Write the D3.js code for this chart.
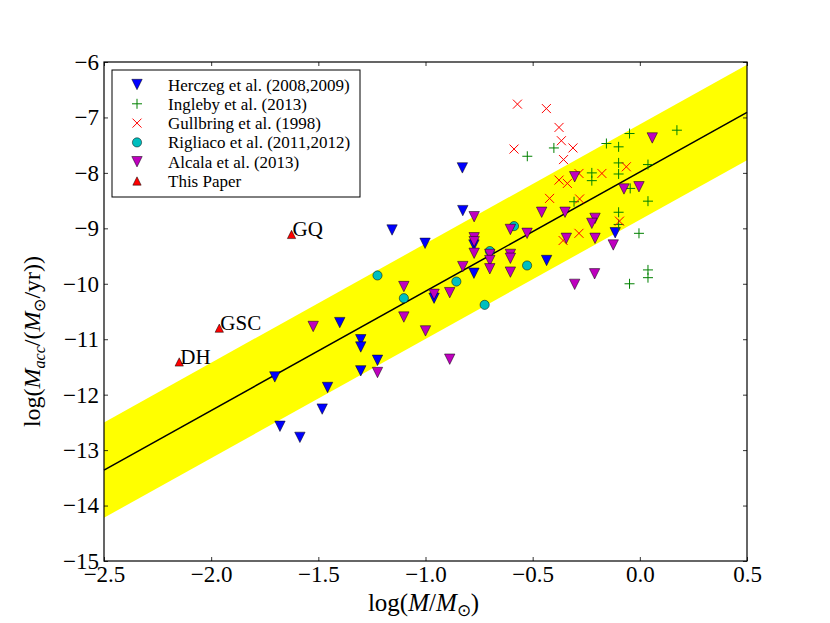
<!DOCTYPE html>
<html lang="en">
<head>
<meta charset="utf-8">
<title>Accretion rate vs mass</title>
<script src="https://d3js.org/d3.v7.min.js"></script>
<style>
  body { margin: 0; background: #fff; }
  text { font-family: "Liberation Serif", "Times New Roman", serif; }
</style>
</head>
<body>
<div id="my_dataviz"></div>
<script>

// ---------------------------//
//       DATA                 //
// ---------------------------//

// [log M, log Macc]
const herczeg = [
  [-1.156, -9.03], [-1.302, -11.01], [-1.302, -11.14], [-1.400, -10.70],
  [-1.224, -11.38], [-1.302, -11.57], [-1.703, -11.68], [-1.457, -11.87],
  [-1.482, -12.26], [-1.679, -12.57], [-1.586, -12.77], [-0.828, -7.91],
  [-0.826, -8.68], [-1.002, -9.27], [-0.774, -9.30], [-0.774, -9.81],
  [-0.960, -10.26], [-0.435, -9.58], [-0.115, -9.08]
];

const ingleby = [
  [-0.525, -7.70], [-0.401, -7.55], [-0.156, -7.47], [-0.099, -7.53],
  [-0.048, -7.29], [0.173, -7.23], [-0.099, -7.82], [0.038, -7.85],
  [-0.099, -8.02], [-0.224, -8.00], [-0.224, -8.14], [-0.045, -8.28],
  [0.038, -8.51], [-0.307, -8.52], [-0.099, -8.71], [-0.099, -8.93],
  [-0.004, -9.09], [0.038, -9.75], [0.038, -9.89], [-0.048, -10.00]
];

const gullbring = [
  [-0.571, -6.76], [-0.436, -6.84], [-0.377, -7.18], [-0.366, -7.42],
  [-0.312, -7.55], [-0.587, -7.57], [-0.356, -7.76], [-0.063, -7.89],
  [-0.377, -8.13], [-0.338, -8.19], [-0.284, -8.01], [-0.177, -8.01],
  [-0.421, -8.46], [-0.281, -8.47], [-0.095, -8.87], [-0.284, -9.09],
  [-0.358, -9.22]
];

const rigliaco = [
  [-1.224, -9.85], [-1.101, -10.26], [-0.587, -8.96], [-0.700, -9.41],
  [-0.526, -9.67], [-0.856, -9.96], [-0.724, -10.38]
];

const alcala = [
  [-1.101, -10.05], [-1.524, -10.77], [-1.101, -10.60], [-1.224, -11.60],
  [-0.773, -8.79], [-0.458, -8.71], [-0.349, -8.71], [-0.209, -8.82],
  [-0.224, -8.91], [-0.604, -9.02], [-0.526, -9.09], [-0.773, -9.17],
  [-0.773, -9.24], [-0.773, -9.45], [-0.343, -9.18], [-0.209, -9.18],
  [-0.124, -9.30], [-0.700, -9.47], [-0.700, -9.58], [-0.700, -9.73],
  [-0.604, -9.47], [-0.604, -9.54], [-0.604, -9.79], [-0.826, -9.69],
  [-0.960, -10.19], [-0.887, -10.16], [-1.000, -10.85], [-0.887, -11.36],
  [-0.304, -10.01], [-0.211, -9.82], [0.058, -7.37], [-0.304, -8.07],
  [-0.074, -8.29], [-0.004, -8.25]
];

const thisPaper = [[-1.625, -9.11], [-1.962, -10.80], [-2.149, -11.41]];
const thisPaperNames = ["GQ", "GSC", "DH"];

// fitted relation and its scatter band
const fitX = [-2.5, 0.5];
const fitY = [-13.36, -6.91];
const bandHalf = 0.86;

const xTicks = [-2.5, -2.0, -1.5, -1.0, -0.5, 0.0, 0.5];
const yTicks = [-6, -7, -8, -9, -10, -11, -12, -13, -14, -15];

const legendNames = ["Herczeg et al. (2008,2009)", "Ingleby et al. (2013)",
  "Gullbring et al. (1998)", "Rigliaco et al. (2011,2012)",
  "Alcala et al. (2013)", "This Paper"];

// ---------------------------//
//       AXIS  AND SCALE      //
// ---------------------------//

const W = 830, H = 623;
const serif = "'Liberation Serif', 'Times New Roman', serif";
const margin = {top: 62, right: 83, bottom: 62, left: 104},
    width = W - margin.left - margin.right,
    height = H - margin.top - margin.bottom;

const svg = d3.select("#my_dataviz")
  .append("svg")
    .attr("width", W)
    .attr("height", H)
  .append("g")
    .attr("transform", `translate(${margin.left},${margin.top})`);

const x = d3.scaleLinear().domain([-2.5, 0.5]).range([0, width]);
const y = d3.scaleLinear().domain([-15, -6]).range([height, 0]);

svg.append("defs").append("clipPath").attr("id", "clip")
  .append("rect").attr("width", width).attr("height", height);

// yellow band
const bandArea = d3.area()
  .x(d => x(d[0]))
  .y0(d => y(d[1] - bandHalf))
  .y1(d => y(d[1] + bandHalf));
svg.append("path")
  .datum(fitX.map((v, i) => [v, fitY[i]]))
  .attr("clip-path", "url(#clip)")
  .attr("d", bandArea)
  .attr("fill", "#ffff00");

svg.append("path")
  .datum(fitX.map((v, i) => [v, fitY[i]]))
  .attr("d", d3.line().x(d => x(d[0])).y(d => y(d[1])))
  .attr("fill", "none")
  .attr("stroke", "black")
  .attr("stroke-width", 1.5);

// ---------------------------//
//       MARKERS              //
// ---------------------------//

const s = 5.2;
const triDown = `M${-s},${-s}L${s},${-s}L0,${s}Z`;
const triUp = `M${-s*0.8},${s*0.8}L${s*0.8},${s*0.8}L0,${-s*0.8}Z`;
const plusPath = "M-5,0H5M0,-5V5";
const crossPath = "M-4.5,-4.5L4.5,4.5M-4.5,4.5L4.5,-4.5";

function drawTri(g, data, color) {
  g.selectAll(null).data(data).join("path")
    .attr("transform", d => `translate(${x(d[0])},${y(d[1])})`)
    .attr("d", triDown)
    .attr("fill", color)
    .attr("stroke", "black")
    .attr("stroke-width", 0.5);
}

const pts = svg.append("g");
drawTri(pts, herczeg, "#0000ff");

pts.selectAll(null).data(ingleby).join("path")
  .attr("transform", d => `translate(${x(d[0])},${y(d[1])})`)
  .attr("d", plusPath)
  .attr("stroke", "#008000")
  .attr("stroke-width", 1);

pts.selectAll(null).data(gullbring).join("path")
  .attr("transform", d => `translate(${x(d[0])},${y(d[1])})`)
  .attr("d", crossPath)
  .attr("stroke", "#ff0000")
  .attr("stroke-width", 1);

pts.selectAll(null).data(rigliaco).join("circle")
  .attr("cx", d => x(d[0]))
  .attr("cy", d => y(d[1]))
  .attr("r", 4.6)
  .attr("fill", "#00bfbf")
  .attr("stroke", "black")
  .attr("stroke-width", 0.5);

drawTri(pts, alcala, "#bf00bf");

pts.selectAll(null).data(thisPaper).join("path")
  .attr("transform", d => `translate(${x(d[0])},${y(d[1])})`)
  .attr("d", triUp)
  .attr("fill", "#ff0000")
  .attr("stroke", "black")
  .attr("stroke-width", 0.5);

pts.selectAll(null).data(thisPaper).join("text")
  .attr("x", d => x(d[0]) + 1)
  .attr("y", d => y(d[1]) + 2)
  .style("font-size", "21px")
  .text((d, i) => thisPaperNames[i]);

// ---------------------------//
//       AXES                 //
// ---------------------------//

const tl = 4;
const axB = d3.axisBottom(x).tickValues(xTicks).tickSize(-tl).tickPadding(5).tickFormat(d3.format(".1f"));
const axT = d3.axisTop(x).tickValues(xTicks).tickSize(-tl).tickFormat("");
const axL = d3.axisLeft(y).tickValues(yTicks).tickSize(-tl).tickPadding(5).tickFormat(d3.format("d"));
const axR = d3.axisRight(y).tickValues(yTicks).tickSize(-tl).tickFormat("");

svg.append("g").attr("transform", `translate(0,${height})`).call(axB).attr("font-family", serif);
svg.append("g").call(axT);
svg.append("g").call(axL).attr("font-family", serif);
svg.append("g").attr("transform", `translate(${width},0)`).call(axR);

svg.selectAll(".domain").remove();
svg.selectAll(".tick line").attr("stroke", "black").attr("stroke-width", 0.8);
svg.selectAll(".tick text")
  .style("font-family", serif)
  .style("font-size", "23px")
  .attr("fill", "black");

svg.append("rect")
  .attr("width", width).attr("height", height)
  .attr("fill", "none").attr("stroke", "black").attr("stroke-width", 1.2);

// axis labels
const xl = svg.append("text")
  .attr("x", width / 2 - 2)
  .attr("y", height + 50)
  .attr("text-anchor", "middle")
  .style("font-size", "25px");
xl.append("tspan").text("log(");
xl.append("tspan").style("font-style", "italic").text("M");
xl.append("tspan").text("/");
xl.append("tspan").style("font-style", "italic").text("M");
xl.append("tspan").attr("dy", 5).style("font-size", "17px").text("⊙");
xl.append("tspan").attr("dy", -5).text(")");

const yl = svg.append("text")
  .attr("transform", `translate(${-64},${height / 2 + 30}) rotate(-90)`)
  .attr("text-anchor", "middle")
  .style("font-size", "24px");
yl.append("tspan").text("log(");
yl.append("tspan").style("font-style", "italic").text("M");
yl.append("tspan").attr("dy", 5).style("font-style", "italic").style("font-size", "16px").text("acc");
yl.append("tspan").attr("dy", -5).text("/(");
yl.append("tspan").style("font-style", "italic").text("M");
yl.append("tspan").attr("dy", 5).style("font-size", "16px").text("⊙");
yl.append("tspan").attr("dy", -5).text("/yr))");

// ---------------------------//
//       LEGEND               //
// ---------------------------//

const lg = svg.append("g").attr("transform", "translate(8,8)");
lg.append("rect")
  .attr("width", 248).attr("height", 127)
  .attr("fill", "white").attr("stroke", "black").attr("stroke-width", 1);

const legendShapes = [
  {d: triDown, fill: "#0000ff", stroke: "black", sw: 0.5},
  {d: plusPath, fill: "none", stroke: "#008000", sw: 1},
  {d: crossPath, fill: "none", stroke: "#ff0000", sw: 1},
  {d: null, fill: "#00bfbf", stroke: "black", sw: 0.5},
  {d: triDown, fill: "#bf00bf", stroke: "black", sw: 0.5},
  {d: triUp, fill: "#ff0000", stroke: "black", sw: 0.5}
];

const rows = lg.selectAll(null).data(legendNames).join("g")
  .attr("transform", (d, i) => `translate(0,${14.5 + i * 19.3})`);

rows.each(function(d, i) {
  const sh = legendShapes[i];
  const r = d3.select(this);
  if (sh.d === null) {
    r.append("circle").attr("cx", 25).attr("r", 4.6)
      .attr("fill", sh.fill).attr("stroke", sh.stroke).attr("stroke-width", sh.sw);
  } else {
    r.append("path").attr("transform", "translate(25,0)").attr("d", sh.d)
      .attr("fill", sh.fill).attr("stroke", sh.stroke).attr("stroke-width", sh.sw);
  }
});

rows.append("text")
  .attr("x", 56)
  .attr("y", 6)
  .style("font-size", "17px")
  .text(d => d);

</script>
</body>
</html>
